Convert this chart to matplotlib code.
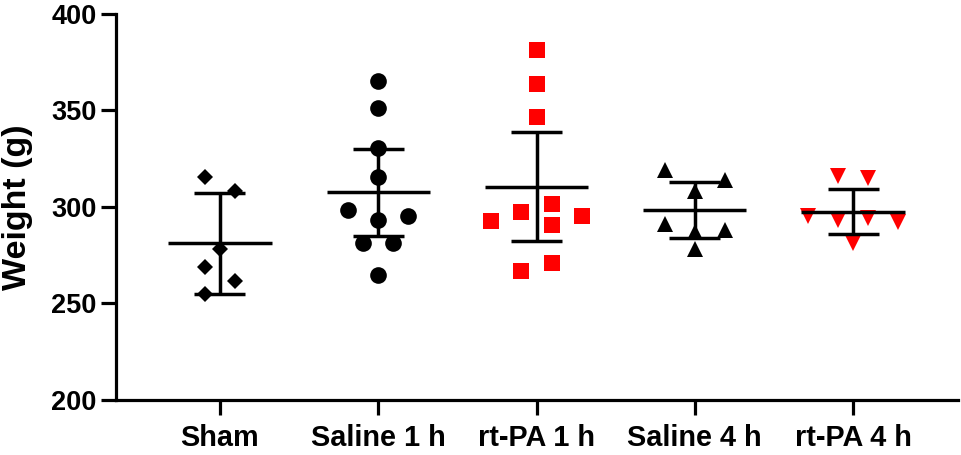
import matplotlib
matplotlib.use("Agg")
import matplotlib.pyplot as plt
import numpy as np

plt.rcParams['font.family'] = ['Liberation Sans', 'DejaVu Sans']
plt.rcParams['font.weight'] = 'bold'

categories = ["Sham", "Saline 1 h", "rt-PA 1 h", "Saline 4 h", "rt-PA 4 h"]

sham = [315.5, 308.3, 278.2, 268.9, 261.7, 255.0]
saline_1h = [365.4, 351.5, 330.7, 315.7, 298.4, 295.5, 293.3, 281.5, 281.5, 264.8]
rtpa_1h = [381.3, 363.6, 346.5, 301.6, 297.6, 295.5, 292.7, 290.7, 270.8, 267.0]
saline_4h = [319.2, 314.0, 308.3, 291.2, 288.1, 287.2, 278.1]
rtpa_4h = [316.1, 314.9, 295.3, 293.3, 294.5, 292.4, 281.2]

# horizontal scatter steps for each point (in steps of the spread unit)
sham_jit = [-1, 1, 0, -1, 1, -1]
saline_1h_jit = [0, 0, 0, 0, -2, 2, 0, -1, 1, 0]
rtpa_1h_jit = [0, 0, 0, 1, -1, 3, -3, 1, 1, -1]
saline_4h_jit = [-2, 2, 0, -2, 2, 0, 0]
rtpa_4h_jit = [-1, 1, -3, -1, 1, 3, 0]

means = [281.2, 307.6, 310.5, 298.4, 297.6]
errors = [26.3, 22.6, 28.1, 14.4, 11.8]

groups = [sham, saline_1h, rtpa_1h, saline_4h, rtpa_4h]
jitters = [sham_jit, saline_1h_jit, rtpa_1h_jit, saline_4h_jit, rtpa_4h_jit]
markers = ['D', 'o', 's', '^', 'v']
sizes = [8.0, 12.0, 11.5, 12.0, 12.0]
colors = ['black', 'black', '#FF0000', 'black', '#FF0000']

fig = plt.figure(figsize=(9.61, 4.55), dpi=100)
ax = fig.add_axes([0.1207, 0.1209, 0.876, 0.8484])

step = 0.095
for i, (vals, jit) in enumerate(zip(groups, jitters)):
    xs = i + np.array(jit) * step
    ax.plot(xs, vals, linestyle='none', marker=markers[i], markersize=sizes[i],
            color=colors[i], markeredgewidth=0, zorder=2)

lw = 2.5
for i, (m, e) in enumerate(zip(means, errors)):
    ax.hlines(m, i - 0.326, i + 0.326, color='black', linewidth=lw, zorder=3)
    ax.vlines(i, m - e, m + e, color='black', linewidth=lw, zorder=3)
    ax.hlines([m - e, m + e], i - 0.161, i + 0.161, color='black', linewidth=lw, zorder=3)

ax.set_xlim(-0.657, 4.662)
ax.set_ylim(200, 400)
ax.set_yticks([200, 250, 300, 350, 400])
ax.set_xticks(range(len(categories)))
ax.set_xticklabels(categories, fontsize=20.8, fontweight='bold')
ax.tick_params(axis='y', labelsize=19.5, width=2.3, length=11, pad=3)
ax.tick_params(axis='x', width=2.3, length=11, pad=6)
for lab in ax.get_yticklabels():
    lab.set_fontweight('bold')
ax.set_ylabel("Weight (g)", fontsize=24.5, fontweight='bold')
ax.yaxis.set_label_coords(-0.099, 0.5)

for s in ['top', 'right']:
    ax.spines[s].set_visible(False)
for s in ['left', 'bottom']:
    ax.spines[s].set_linewidth(2.3)

fig.savefig("out.png", dpi=100)
